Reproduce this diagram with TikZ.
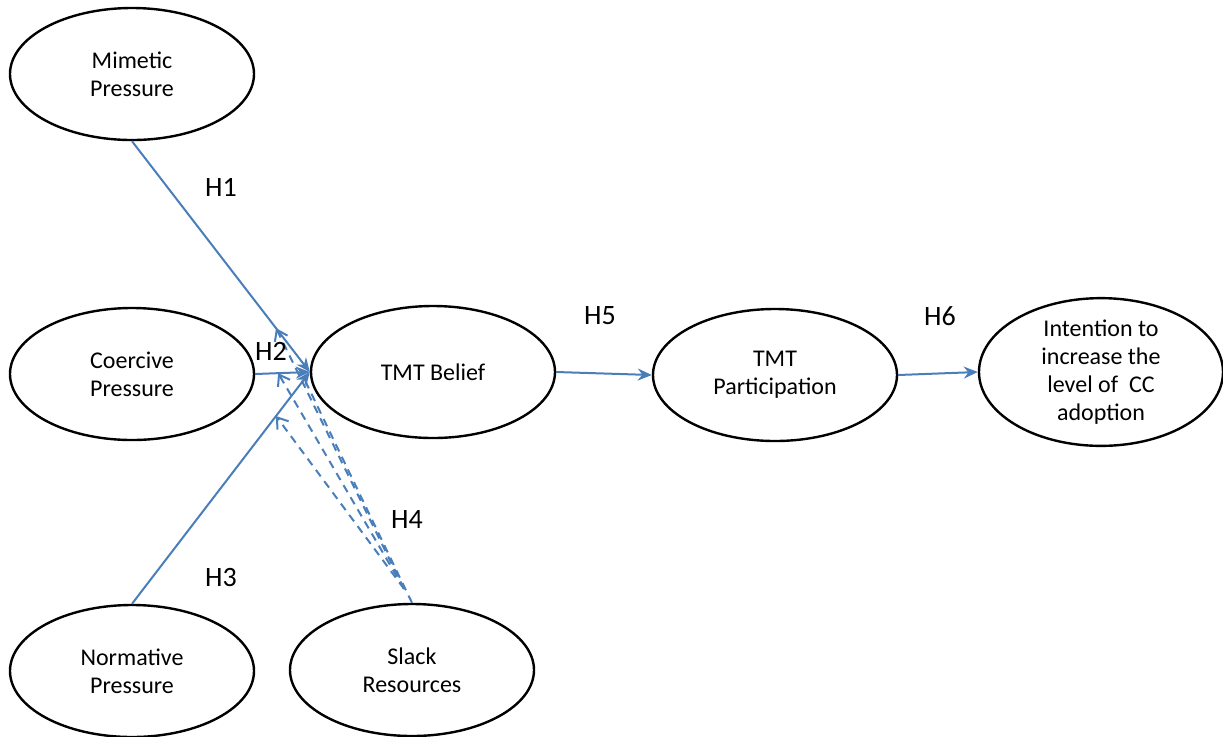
\documentclass[tikz,border=0pt]{standalone}
\usepackage{fontspec}
\setmainfont{Carlito}
\usetikzlibrary{shapes.geometric,arrows.meta,calc}
\definecolor{linkblue}{RGB}{74,126,187}
\tikzstyle{construct}=[ellipse,draw=black,line width=1.2pt,
                       minimum width=122pt,minimum height=66pt,
                       inner sep=0pt,align=center,
                       font=\fontsize{12}{14}\selectfont]
\tikzstyle{link}=[draw=linkblue,line width=1pt,-{Stealth[length=7pt,width=6pt]}]
\tikzstyle{modlink}=[draw=linkblue,line width=1pt,dashed,
                     dash pattern=on 4pt off 3pt,
                     -{Straight Barb[length=5pt,width=7pt]}]
\tikzstyle{hyp}=[font=\fontsize{14}{16}\selectfont]

\begin{document}
\begin{tikzpicture}[x=0.5pt,y=-0.5pt]
    \useasboundingbox (0,0) rectangle (1223,736);
    % constructs
    \node (mim) at (132,74)  [construct]{Mimetic\\Pressure};
    \node (coe) at (132,374) [construct]{Coercive\\Pressure};
    \node (nor) at (132,671) [construct]{Normative\\Pressure};
    \node (sla) at (412,670) [construct]{Slack\\Resources};
    \node (bel) at (433,372) [construct]{TMT Belief};
    \node (par) at (775,375) [construct]{TMT\\Participation};
    \node (int) at (1101,372) [construct]{Intention to\\increase the\\level of~ CC\\adoption};
    % direct effects
    \draw[link] (mim.south) -- (bel.west);
    \draw[link] (coe.east) -- (bel.west);
    \draw[link] (nor.north) -- (bel.west);
    \draw[link] (bel.east) -- (par.west);
    \draw[link] (par.east) -- (int.west);
    % moderation by slack resources
    \coordinate (s0) at ($(sla.north)+(-8,-14)$);
    \coordinate (m1) at ($(mim.south)!0.81!(bel.west)$);
    \coordinate (m2) at ($(coe.east)!0.42!(bel.west)$);
    \coordinate (m3) at ($(nor.north)!0.81!(bel.west)$);
    \coordinate (b1) at ($(bel.west)+(-4,10)$);
    \draw[modlink] (s0) -- (m1);
    \draw[modlink] (s0) -- (m2);
    \draw[modlink] (s0) -- (m3);
    \draw[draw=linkblue,line width=1pt,dash pattern=on 4pt off 3pt] (sla.north) -- (b1);
    % hypotheses
    \node (h1) at (221,187) [hyp]{H1};
    \node (h2) at (271,351) [hyp]{H2};
    \node (h3) at (221,577) [hyp]{H3};
    \node (h4) at (407,519) [hyp]{H4};
    \node (h5) at (600,316) [hyp]{H5};
    \node (h6) at (940,316) [hyp]{H6};
\end{tikzpicture}
\end{document}
